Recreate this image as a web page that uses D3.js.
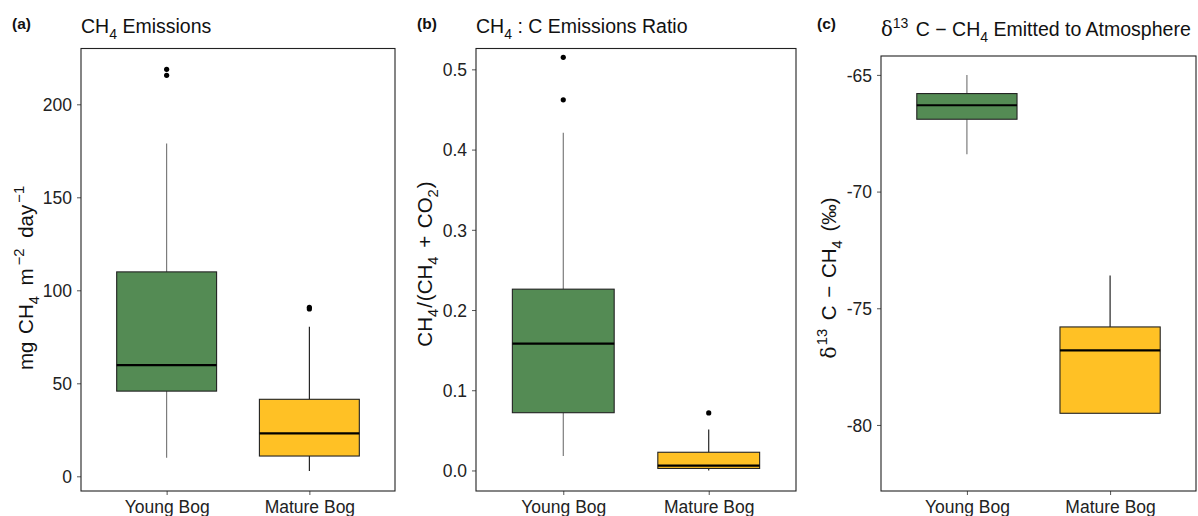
<!DOCTYPE html>
<html>
<head>
<meta charset="utf-8">
<script src="https://cdn.jsdelivr.net/npm/d3@7"></script>
<style>
  html, body { margin: 0; padding: 0; background: #fff; }
  svg { display: block; font-family: "Liberation Sans", Arial, sans-serif; }
</style>
</head>
<body>
<svg id="chart" width="1198" height="516"></svg>
<script>
// ---------------- data ----------------
const categories = ["Young Bog", "Mature Bog"];
const fillColors = ["#548B54", "#FFC125"];
const whiskerColors = ["#707070", "#111111"];

// box stats: [lower whisker, Q1, median, Q3, upper whisker]
const ch4Box = [
  [10.0, 45.8, 59.8, 109.9, 178.9],
  [2.8, 10.9, 23.1, 41.4, 80.4]
];
const ch4Outliers = [[215.6, 218.8], [90.0, 90.9]];
const ch4Ticks = [0, 50, 100, 150, 200];
const ch4TickLabels = ["0", "50", "100", "150", "200"];

const ratioBox = [
  [0.018, 0.072, 0.158, 0.226, 0.421],
  [0.000, 0.0025, 0.006, 0.0227, 0.051]
];
const ratioOutliers = [[0.462, 0.515], [0.0717]];
const ratioTicks = [0, 0.1, 0.2, 0.3, 0.4, 0.5];
const ratioTickLabels = ["0.0", "0.1", "0.2", "0.3", "0.4", "0.5"];

const d13Box = [
  [-68.4, -66.9, -66.3, -65.8, -65.0],
  [-79.5, -79.5, -76.8, -75.8, -73.6]
];
const d13Outliers = [[], []];
const d13Ticks = [-80, -75, -70, -65];
const d13TickLabels = ["-80", "-75", "-70", "-65"];

// ---------------- layout ----------------
const svg = d3.select("#chart");
const FONT = '"Liberation Sans", Arial, sans-serif';

function richText(g, segs, size) {
  const t = g.append("text").attr("font-size", size).attr("fill", "#111");
  let shift = 0;
  segs.forEach(s => {
    const ts = t.append("tspan").text(s.t);
    let target = 0;
    if (s.sub) { target = size * 0.3; ts.attr("font-size", size * 0.72); }
    if (s.sup) { target = -size * 0.42; ts.attr("font-size", size * 0.72); }
    if (s.serif) ts.attr("font-family", '"DejaVu Serif", "Liberation Serif", serif');
    const dy = target - shift;
    if (dy !== 0) ts.attr("dy", dy);
    if (s.dx) ts.attr("dx", s.dx);
    shift = target;
  });
  return t;
}

const panels = [
  {
    tag: "(a)", tagX: 12,
    title: [{t: "CH"}, {t: "4", sub: true}, {t: " Emissions"}], titleY: 33,
    ylab: [{t: "mg"}, {t: " CH", dx: 2}, {t: "4", sub: true}, {t: " m", dx: 5}, {t: "−2", sup: true, dx: 3}, {t: " day", dx: 5}, {t: "−1", sup: true, dx: 2}],
    ylabX: 33, ylabY: 278,
    left: 81, right: 395, top: 48.5, bottom: 491,
    domain: [-7.9, 230.0],
    box: ch4Box, outliers: ch4Outliers, ticks: ch4Ticks, tickLabels: ch4TickLabels
  },
  {
    tag: "(b)", tagX: 417,
    title: [{t: "CH"}, {t: "4", sub: true}, {t: " : C Emissions Ratio"}], titleY: 33,
    ylab: [{t: "CH"}, {t: "4", sub: true}, {t: "/", dx: 1}, {t: "(CH", dx: 1}, {t: "4", sub: true}, {t: " + ", dx: 3}, {t: "CO", dx: 2}, {t: "2", sub: true}, {t: ")", dx: 1}],
    ylabX: 432, ylabY: 264,
    left: 476, right: 796, top: 48.5, bottom: 491,
    domain: [-0.0256, 0.526],
    box: ratioBox, outliers: ratioOutliers, ticks: ratioTicks, tickLabels: ratioTickLabels
  },
  {
    tag: "(c)", tagX: 817,
    title: [{t: "δ", serif: true}, {t: "13", sup: true}, {t: " C − CH", dx: 2}, {t: "4", sub: true}, {t: " Emitted to Atmosphere"}], titleY: 36,
    ylab: [{t: "δ", serif: true}, {t: "13", sup: true, dx: 1}, {t: " C", dx: 3}, {t: " − ", dx: 2}, {t: "CH", dx: 2}, {t: "4", sub: true}, {t: " (‰)", dx: 3}],
    ylabX: 836, ylabY: 278,
    left: 881, right: 1196, top: 56, bottom: 491,
    domain: [-82.83, -64.19],
    box: d13Box, outliers: d13Outliers, ticks: d13Ticks, tickLabels: d13TickLabels
  }
];

panels.forEach(p => {
  const g = svg.append("g");
  const x = d3.scalePoint().domain(categories).range([p.left, p.right]).padding(0.6);
  const y = d3.scaleLinear().domain(p.domain).range([p.bottom, p.top]);
  const bw = x.step() * 0.7;

  g.append("text").attr("x", p.tagX).attr("y", 29).attr("font-size", 15.5).attr("font-weight", "bold")
    .attr("fill", "#111").text(p.tag);

  richText(g, p.title, 19.5).attr("x", p.left).attr("y", p.titleY);

  const yl = richText(g, p.ylab, 20.5).attr("text-anchor", "middle");
  yl.attr("transform", `translate(${p.ylabX},${p.ylabY}) rotate(-90)`);

  categories.forEach((c, i) => {
    const s = p.box[i];
    const cx = x(c);
    g.append("line").attr("x1", cx).attr("x2", cx).attr("y1", y(s[3])).attr("y2", y(s[4]))
      .attr("stroke", whiskerColors[i]).attr("stroke-width", 1.1);
    g.append("line").attr("x1", cx).attr("x2", cx).attr("y1", y(s[1])).attr("y2", y(s[0]))
      .attr("stroke", whiskerColors[i]).attr("stroke-width", 1.1);
    g.append("rect").attr("x", cx - bw / 2).attr("width", bw)
      .attr("y", y(s[3])).attr("height", Math.max(0.5, y(s[1]) - y(s[3])))
      .attr("fill", fillColors[i]).attr("stroke", "#222").attr("stroke-width", 1.1);
    g.append("line").attr("x1", cx - bw / 2).attr("x2", cx + bw / 2)
      .attr("y1", y(s[2])).attr("y2", y(s[2])).attr("stroke", "#000").attr("stroke-width", 2.2);
    p.outliers[i].forEach(v => {
      g.append("circle").attr("cx", cx).attr("cy", y(v)).attr("r", 2.6).attr("fill", "#000");
    });
  });

  const yAxis = d3.axisLeft(y).tickValues(p.ticks).tickFormat((d, i) => p.tickLabels[i]).tickSize(4).tickPadding(5);
  const ya = g.append("g").attr("transform", `translate(${p.left},0)`).call(yAxis);
  const xAxis = d3.axisBottom(x).tickSize(4).tickPadding(6);
  const xa = g.append("g").attr("transform", `translate(0,${p.bottom})`).call(xAxis);
  [ya, xa].forEach(a => {
    a.select(".domain").remove();
    a.selectAll(".tick line").attr("stroke", "#555").attr("stroke-width", 1);
    a.selectAll(".tick text").attr("font-size", 17.5).attr("font-family", FONT).attr("fill", "#222");
  });
  xa.selectAll(".tick text").attr("dy", "0.7em");
  ya.selectAll(".tick text").attr("dy", "0.36em");

  g.append("rect").attr("x", p.left).attr("y", p.top).attr("width", p.right - p.left).attr("height", p.bottom - p.top)
    .attr("fill", "none").attr("stroke", "#222").attr("stroke-width", 1.1);
});
</script>
</body>
</html>
